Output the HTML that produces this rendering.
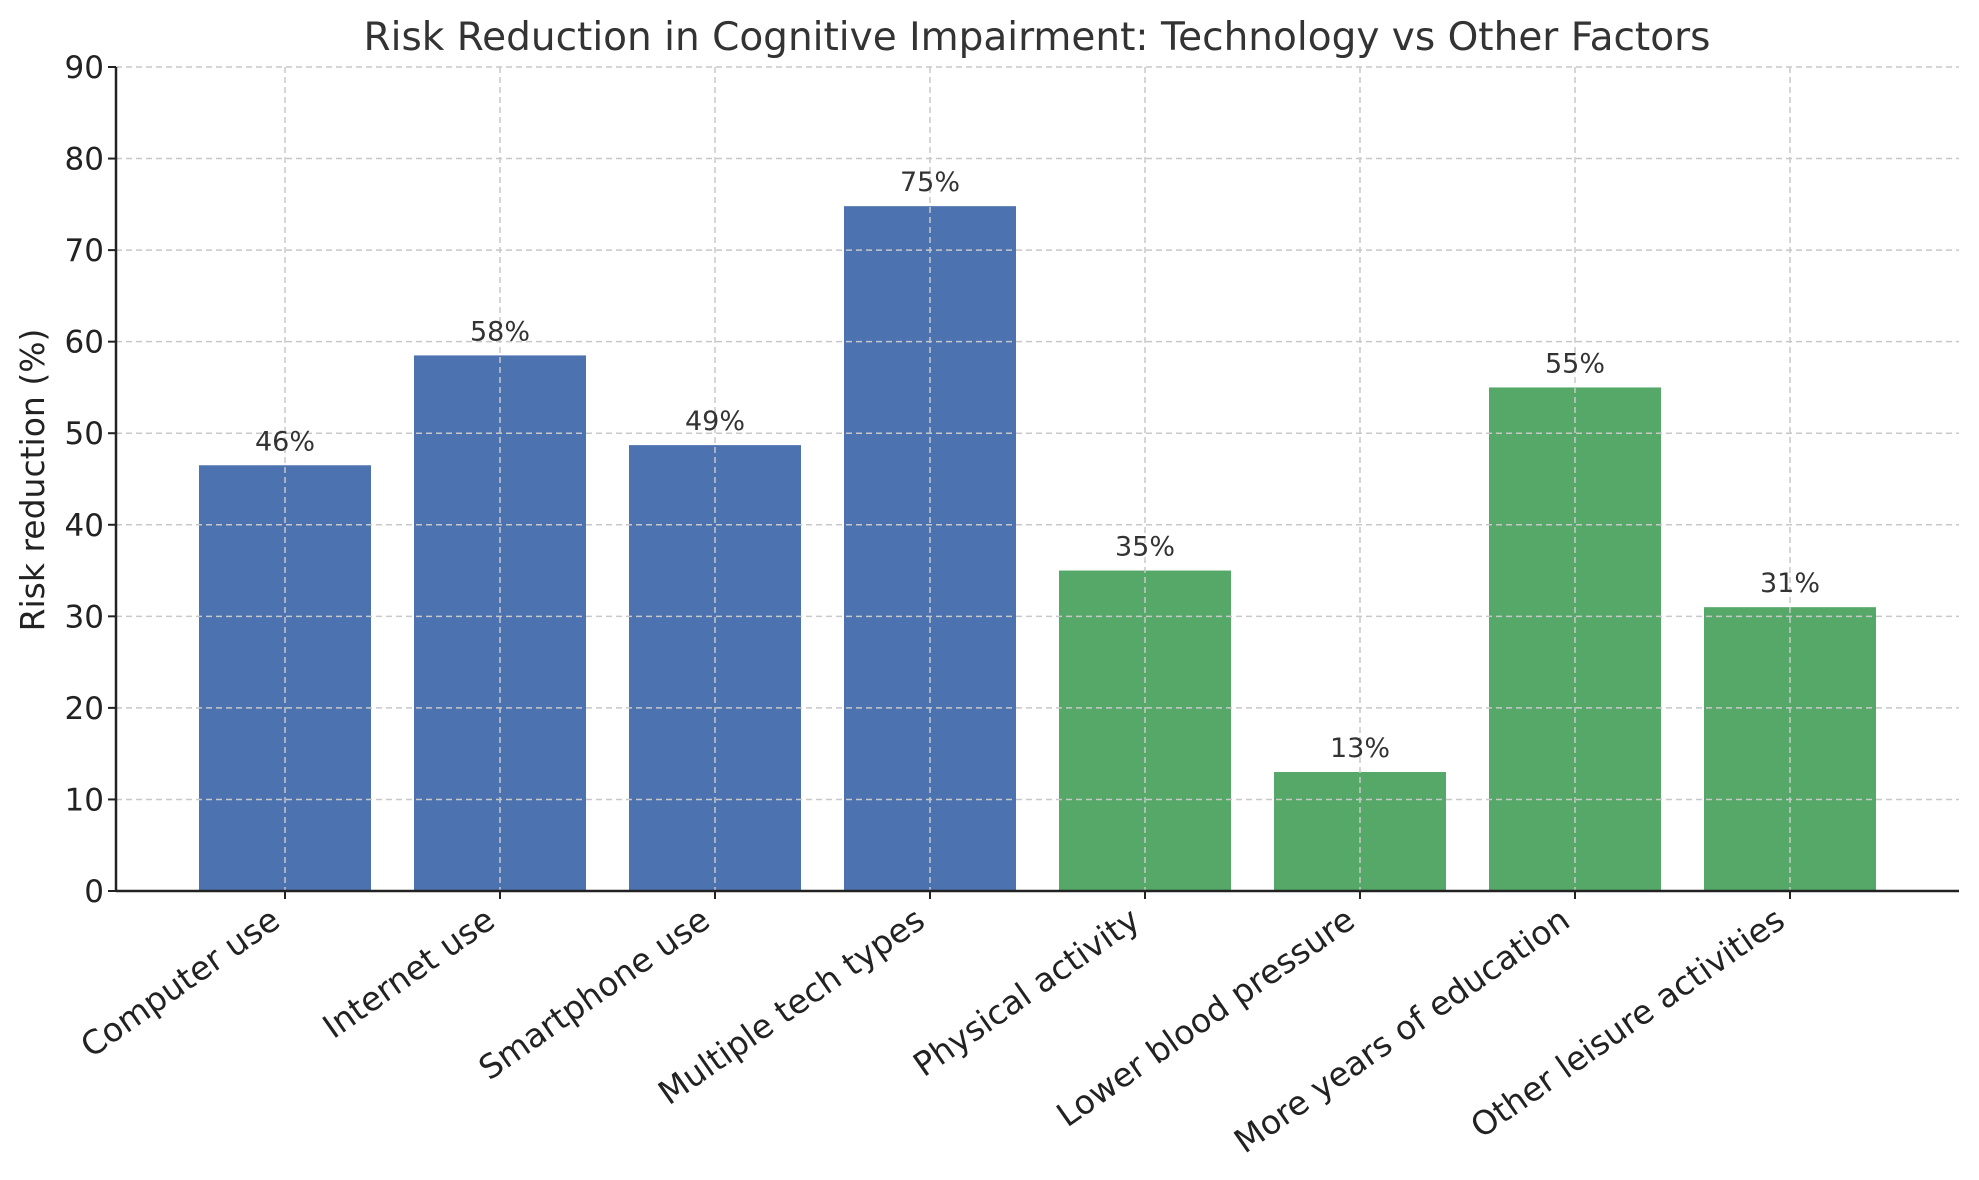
<!DOCTYPE html>
<html><head><meta charset="utf-8"><style>
html,body{margin:0;padding:0;background:#fff;}
svg{display:block;font-family:"DejaVu Sans","Liberation Sans",sans-serif;}
</style></head><body>
<svg id="chart" width="1979" height="1180" viewBox="0 0 1979 1180" xmlns="http://www.w3.org/2000/svg">
<text x="1037" y="50" text-anchor="middle" font-size="39" fill="#333">Risk Reduction in Cognitive Impairment: Technology vs Other Factors</text>
<text transform="translate(44,480) rotate(-90)" text-anchor="middle" font-size="33" fill="#222">Risk reduction (%)</text>
<g id="grid"></g><g id="bars"></g><g id="labels"></g><g id="axes"></g>
</svg>
<script>
const categories = ["Computer use","Internet use","Smartphone use","Multiple tech types","Physical activity","Lower blood pressure","More years of education","Other leisure activities"];
const values = [46.5, 58.5, 48.7, 74.8, 35, 13, 55, 31];
const valueLabels = ["46%","58%","49%","75%","35%","13%","55%","31%"];
const groups = ["tech","tech","tech","tech","other","other","other","other"];
const yTicks = [0,10,20,30,40,50,60,70,80,90];

const NS="http://www.w3.org/2000/svg";
const X0=116, X1=1959, Y0=891, Y90=67;
const slot=215, first=285, bw=172;
const colors={tech:"#4C72B0",other:"#55A868"};
function xScale(i){return first+i*slot;}
function yScale(v){return Y0-(v/90)*(Y0-Y90);}
function mk(tag,attrs,parent){const e=document.createElementNS(NS,tag);for(const k in attrs)e.setAttribute(k,attrs[k]);parent.appendChild(e);return e;}
const grid=document.getElementById('grid'),bars=document.getElementById('bars'),labels=document.getElementById('labels'),axes=document.getElementById('axes');

yTicks.forEach(t=>{
  const y=yScale(t);
  const g=mk('line',{x1:X0,x2:X1,y1:y,y2:y,stroke:'#c8c8c8','stroke-width':1.5,'stroke-dasharray':'6,4'},grid);
  
  
  const tk=mk('line',{x1:X0-8,x2:X0,y1:y,y2:y,stroke:'#222','stroke-width':2},axes);
  
  
  const tl=mk('text',{x:X0-12,y:y+11,'text-anchor':'end','font-size':31,fill:'#222'},axes);
  tl.textContent=t;
  
  
});
categories.forEach((c,i)=>{
  const x=xScale(i);
  const g=mk('line',{x1:x,x2:x,y1:Y90,y2:Y0,stroke:'#c8c8c8','stroke-width':1.5,'stroke-dasharray':'6,4'},grid);
  
  
  const y=yScale(values[i]);
  const r=mk('rect',{x:x-bw/2,y:y,width:bw,height:Y0-y,fill:colors[groups[i]]},bars);
  
  
  const vl=mk('text',{x:x,y:y-15,'text-anchor':'middle','font-size':27,fill:'#333'},labels);
  vl.textContent=valueLabels[i];
  
  
  const tk=mk('line',{x1:x,x2:x,y1:Y0,y2:Y0+8,stroke:'#222','stroke-width':2},axes);
  
  
  const cl=mk('text',{transform:`translate(${x-3},${Y0+34}) rotate(-35)`,'text-anchor':'end','font-size':33,fill:'#222'},axes);
  cl.textContent=c;
  
  
});
document.getElementById('chart').appendChild(grid);
document.getElementById('chart').appendChild(labels);
document.getElementById('chart').appendChild(axes);
const ya=mk('line',{x1:X0,x2:X0,y1:Y90,y2:Y0+1,stroke:'#222','stroke-width':2.5},axes);


const xa=mk('line',{x1:X0,x2:X1,y1:Y0,y2:Y0,stroke:'#222','stroke-width':2.5},axes);


</script>
</body></html>
